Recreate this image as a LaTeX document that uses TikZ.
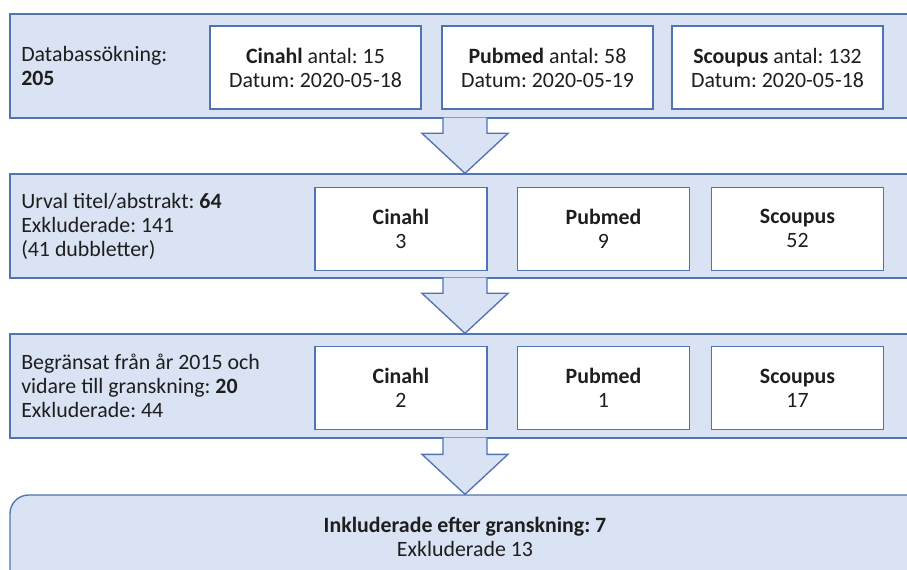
\documentclass[tikz,border=0pt]{standalone}
\usepackage{fontspec}
\setmainfont{Carlito}
\frenchspacing
\usetikzlibrary{calc,positioning}
\definecolor{panelfill}{RGB}{218,227,243}
\definecolor{panelline}{RGB}{80,115,180}
\definecolor{textgrey}{RGB}{30,30,30}
\tikzset{
	panel/.style={draw=panelline, fill=panelfill, line width=1pt, minimum width=742.5pt, minimum height=78pt, inner sep=0pt},
	dbbox/.style={draw=panelline, fill=white, line width=1pt, minimum height=62.25pt, align=center, inner sep=0pt},
	sidetext/.style={anchor=west, align=left, inner sep=0pt},
	blockarrow/.style={draw=panelline, fill=panelfill, line width=1pt, line join=miter}
}

\begin{document}
\begin{tikzpicture}[x=0.75pt, y=-0.75pt, font=\fontsize{16.4}{18}\selectfont, text=textgrey]
			\clip (0,0) rectangle (907,570);
			\coordinate (mid) at (465,0);
			% panels
			\node[panel] (search)   at (505,66)  {};
			\node[panel] (screen)   at (505,226) {};
			\node[panel] (limit)    at (505,386) {};
			\node[panel, rounded corners=14pt, minimum height=78.75pt] (result) at (505,547.5) {};
			% texts on the left
			\node[sidetext] (searchtext) at (21,66)  {Databassökning:\\\textbf{205}};
			\node[sidetext] (screentext) at (21,226) {Urval titel/abstrakt: \textbf{64}\\Exkluderade: 141\\(41 dubbletter)};
			\node[sidetext] (limittext)  at (21,386) {Begränsat från år 2015 och\\vidare till granskning: \textbf{20}\\Exkluderade: 44};
			\node[align=center] (resulttext) at (465,537) {\textbf{Inkluderade efter granskning: 7}\\Exkluderade 13};
			% databases
			\node[dbbox, minimum width=158.25pt] (cinahlsearch)  at (315.5,67.5) {\textbf{Cinahl} antal: 15\\Datum: 2020-05-18};
			\node[dbbox, minimum width=158.25pt] (pubmedsearch)  at (547.5,67.5) {\textbf{Pubmed} antal: 58\\Datum: 2020-05-19};
			\node[dbbox, minimum width=158.25pt] (scoupussearch) at (777.5,67.5) {\textbf{Scoupus} antal: 132\\Datum: 2020-05-18};
			\node[dbbox, minimum width=129pt] (cinahlscreen)  at (401,228.75)   {\textbf{Cinahl}\\3};
			\node[dbbox, minimum width=129pt] (pubmedscreen)  at (603.5,228.75) {\textbf{Pubmed}\\9};
			\node[dbbox, minimum width=129pt] (scoupusscreen) at (797.5,228.75) {\textbf{Scoupus}\\52};
			\node[dbbox, minimum width=129pt] (cinahllimit)  at (401,388)   {\textbf{Cinahl}\\2};
			\node[dbbox, minimum width=129pt] (pubmedlimit)  at (603.5,388) {\textbf{Pubmed}\\1};
			\node[dbbox, minimum width=129pt] (scoupuslimit) at (797.5,388) {\textbf{Scoupus}\\17};
			% arrows between panels
			\foreach \from/\to in {search/screen, screen/limit, limit/result}
				\path[blockarrow] ($(\from.south -| mid)+(-22,-1)$) |- ($(\to.north -| mid)+(-43,-40)$)
					-- (\to.north -| mid) -- ($(\to.north -| mid)+(43,-40)$) -| ($(\from.south -| mid)+(22,-1)$);
		\end{tikzpicture}
\end{document}
